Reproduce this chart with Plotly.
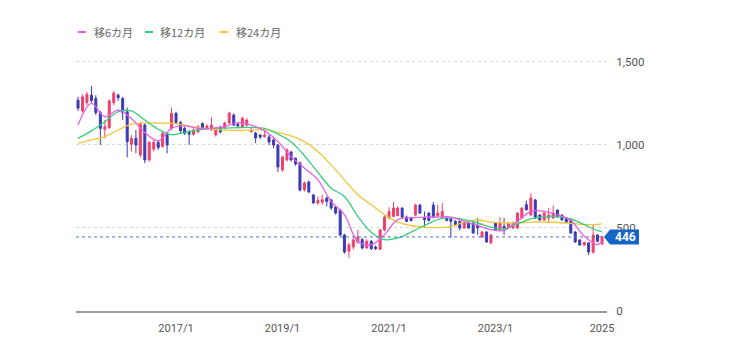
import plotly.graph_objects as go
import pandas as pd

# ---------------- data ----------------
months = pd.date_range("2015-03-01", "2025-01-01", freq="MS")

opens = [1270, 1205, 1255, 1300, 1280, 1195, 1095, 1105, 1255, 1300,
         1280, 1200, 1005, 1040, 940, 1120, 910, 975, 1015, 990,
         1065, 1100, 1190, 1135, 1100, 1080, 1065, 1080, 1130, 1100,
         1090, 1060, 1108, 1102, 1132, 1180, 1125, 1108, 1120, 1080,
         1072, 1060, 1050, 1048, 1030, 1000, 849, 910, 958, 920,
         892, 729, 777, 699, 650, 655, 680, 669, 627, 608,
         458, 360, 386, 415, 430, 380, 420, 385, 372, 488,
         560, 570, 575, 620, 566, 560, 578, 638, 560, 590,
         638, 575, 560, 560, 555, 540, 540, 500, 530, 530,
         515, 446, 476, 410, 530, 488, 510, 500, 500, 500,
         560, 640, 578, 669, 578, 548, 560, 560, 608, 578,
         560, 548, 476, 428, 398, 410, 355, 458, 405]
highs = [1290, 1305, 1320, 1355, 1300, 1205, 1150, 1275, 1325, 1310,
         1290, 1225, 1060, 1090, 1140, 1130, 1025, 1030, 1030, 1080,
         1072, 1225, 1200, 1145, 1110, 1090, 1100, 1120, 1135, 1125,
         1168, 1100, 1115, 1140, 1200, 1190, 1135, 1170, 1160, 1110,
         1080, 1065, 1100, 1060, 1040, 1005, 935, 980, 965, 925,
         900, 780, 785, 705, 690, 700, 690, 675, 635, 615,
         465, 410, 440, 490, 440, 432, 428, 395, 495, 575,
         625, 657, 630, 625, 575, 568, 645, 645, 600, 595,
         657, 640, 650, 570, 565, 548, 545, 540, 535, 535,
         560, 480, 480, 462, 535, 566, 560, 535, 535, 595,
         625, 665, 710, 675, 582, 595, 620, 636, 612, 582,
         565, 552, 480, 432, 418, 415, 518, 462, 455]
lows = [1205, 1195, 1240, 1255, 1180, 1000, 1040, 1095, 1240, 1265,
        1150, 925, 960, 950, 925, 890, 900, 960, 970, 985,
        950, 1090, 1125, 1070, 1060, 1000, 1055, 1070, 1095, 1090,
        1085, 1050, 1070, 1095, 1125, 1115, 1100, 1100, 1110, 1075,
        1012, 1035, 1045, 1000, 980, 837, 840, 900, 900, 875,
        720, 720, 710, 645, 640, 640, 630, 610, 580, 450,
        345, 320, 370, 405, 370, 375, 368, 368, 368, 480,
        555, 565, 570, 560, 535, 538, 570, 585, 500, 540,
        560, 560, 555, 540, 440, 515, 485, 495, 495, 465,
        458, 440, 410, 405, 485, 485, 458, 495, 495, 495,
        555, 605, 570, 555, 545, 545, 530, 555, 560, 545,
        530, 465, 410, 392, 392, 337, 345, 415, 395]
closes = [1222, 1290, 1305, 1268, 1195, 1100, 1110, 1265, 1312, 1285,
          1195, 1020, 1040, 1000, 1125, 910, 1015, 1015, 985, 1070,
          1000, 1190, 1135, 1085, 1070, 1065, 1090, 1110, 1102, 1115,
          1120, 1090, 1078, 1132, 1192, 1120, 1115, 1162, 1150, 1090,
          1042, 1048, 1060, 1018, 1000, 867, 927, 970, 910, 885,
          729, 771, 717, 651, 665, 670, 660, 620, 590, 458,
          355, 398, 428, 445, 380, 420, 375, 375, 488, 566,
          600, 620, 620, 566, 540, 545, 638, 590, 550, 545,
          566, 590, 600, 545, 540, 520, 500, 535, 500, 470,
          500, 476, 416, 458, 488, 530, 495, 530, 530, 590,
          620, 610, 680, 560, 548, 590, 578, 590, 566, 548,
          536, 470, 416, 398, 412, 355, 458, 420, 446]

# moving averages (quarterly samples)
ma_months = ["2015-03", "2015-06", "2015-09", "2015-12", "2016-03", "2016-06",
             "2016-09", "2016-12", "2017-03", "2017-06", "2017-09", "2017-12",
             "2018-03", "2018-06", "2018-09", "2018-12", "2019-03", "2019-06",
             "2019-09", "2019-12", "2020-03", "2020-06", "2020-09", "2020-12",
             "2021-03", "2021-06", "2021-09", "2021-12", "2022-03", "2022-06",
             "2022-09", "2022-12", "2023-03", "2023-06", "2023-09", "2023-12",
             "2024-03", "2024-06", "2024-09", "2024-12", "2025-01"]
ma6 = [1120, 1250, 1170, 1210, 1160, 1075, 1025, 1100, 1115, 1100,
       1100, 1110, 1135, 1120, 1085, 1020, 930, 860, 790, 660,
       580, 420, 398, 460, 550, 562, 566, 566, 566, 540,
       515, 490, 485, 540, 600, 600, 580, 545, 450, 400, 420]
ma12 = [1040, 1085, 1140, 1200, 1205, 1150, 1095, 1062, 1075, 1090,
        1100, 1102, 1105, 1105, 1100, 1065, 1020, 935, 835, 740,
        690, 570, 475, 430, 440, 475, 515, 550, 562, 550,
        530, 505, 495, 525, 555, 568, 570, 555, 520, 485, 476]
ma24 = [1010, 1030, 1050, 1090, 1125, 1132, 1132, 1130, 1120, 1105,
        1095, 1090, 1088, 1090, 1092, 1075, 1055, 1020, 960, 880,
        790, 700, 640, 580, 535, 515, 505, 502, 508, 535,
        548, 535, 530, 530, 535, 536, 533, 528, 520, 522, 525]

tick_dates = ["2017-01-01", "2019-01-01", "2021-01-01", "2023-01-01", "2025-01-01"]
tick_text = ["2017/1", "2019/1", "2021/1", "2023/1", "2025"]
y_ticks = [0, 500, 1000, 1500]
last_price = 446

# ---------------- style ----------------
RED = "#f0416c"
BLUE = "#3b3bb5"
C6 = "#e860e6"
C12 = "#35cf7c"
C24 = "#f3c63c"
Y_MAX = 1572
FONT = "Roboto, 'Noto Sans CJK JP', sans-serif"

fig = go.Figure()
fig.add_trace(go.Scatter(x=ma_months, y=ma24, mode="lines", line=dict(color=C24, width=1.3, shape="spline"),
                         name="移24カ月", showlegend=False, hoverinfo="skip"))
fig.add_trace(go.Scatter(x=ma_months, y=ma12, mode="lines", line=dict(color=C12, width=1.3, shape="spline"),
                         name="移12カ月", showlegend=False, hoverinfo="skip"))
fig.add_trace(go.Scatter(x=ma_months, y=ma6, mode="lines", line=dict(color=C6, width=1.3, shape="spline"),
                         name="移6カ月", showlegend=False, hoverinfo="skip"))
fig.add_trace(go.Candlestick(
    x=months, open=opens, high=highs, low=lows, close=closes,
    increasing=dict(line=dict(color=RED, width=1), fillcolor=RED),
    decreasing=dict(line=dict(color=BLUE, width=1), fillcolor=BLUE),
    whiskerwidth=0, showlegend=False))

# price line
fig.add_shape(type="line", xref="paper", yref="y", x0=0, x1=0.995, y0=last_price, y1=last_price,
              line=dict(color="#4a72d4", width=1, dash="3px,3px"), layer="above")
# price tag
yp = last_price / Y_MAX
h = 7.5 / 261
fig.add_shape(type="path", xref="paper", yref="paper",
              path=f"M 0.9944,{yp} L 1.0057,{yp + h} L 1.0603,{yp + h} L 1.0603,{yp - h} L 1.0057,{yp - h} Z",
              fillcolor="#1565c8", line=dict(width=0), layer="above")
fig.add_annotation(x=1.034, xref="paper", y=last_price, yref="y", text=f"<b>{last_price}</b>",
                   showarrow=False, font=dict(color="white", size=12, family=FONT), xanchor="center")

# legend (custom)
legend_items = [("移6カ月", C6, 0.0038, 0.0301), ("移12カ月", C12, 0.130, 0.155), ("移24カ月", C24, 0.271, 0.298)]
ly = (311 - 32) / 261
for label, col, lx, tx in legend_items:
    fig.add_shape(type="line", xref="paper", yref="paper", x0=lx, x1=lx + 0.015, y0=ly, y1=ly,
                  line=dict(color=col, width=2))
    fig.add_annotation(x=tx, xref="paper", y=ly, yref="paper", text=label, showarrow=False,
                       xanchor="left", yanchor="middle",
                       font=dict(color="#666666", size=11, family="'Noto Sans CJK JP', sans-serif"))

fig.update_layout(
    width=732, height=351,
    margin=dict(l=76, r=125, t=50, b=40),
    paper_bgcolor="white", plot_bgcolor="white",
    showlegend=False,
    font=dict(family=FONT, color="#555555", size=11),
    xaxis=dict(
        type="date", range=["2015-02-15", "2025-02-04"],
        rangeslider=dict(visible=False),
        tickmode="array", tickvals=tick_dates, ticktext=tick_text,
        showgrid=False, showline=True, linecolor="#9a9a9a", linewidth=1.5,
        ticks="outside", ticklen=6, tickcolor="rgba(0,0,0,0)",
        tickfont=dict(size=11, color="#555555"),
    ),
    yaxis=dict(
        side="right", range=[0, Y_MAX], tickmode="array", tickvals=y_ticks,
        tickformat=",d", showgrid=True, gridcolor="#d6d6d6", griddash="3px,3px", gridwidth=1,
        zeroline=False, showline=False,
        ticks="outside", ticklen=6, tickcolor="rgba(0,0,0,0)",
        tickfont=dict(size=11.5, color="#555555"),
    ),
)

fig.write_html("out.html")
